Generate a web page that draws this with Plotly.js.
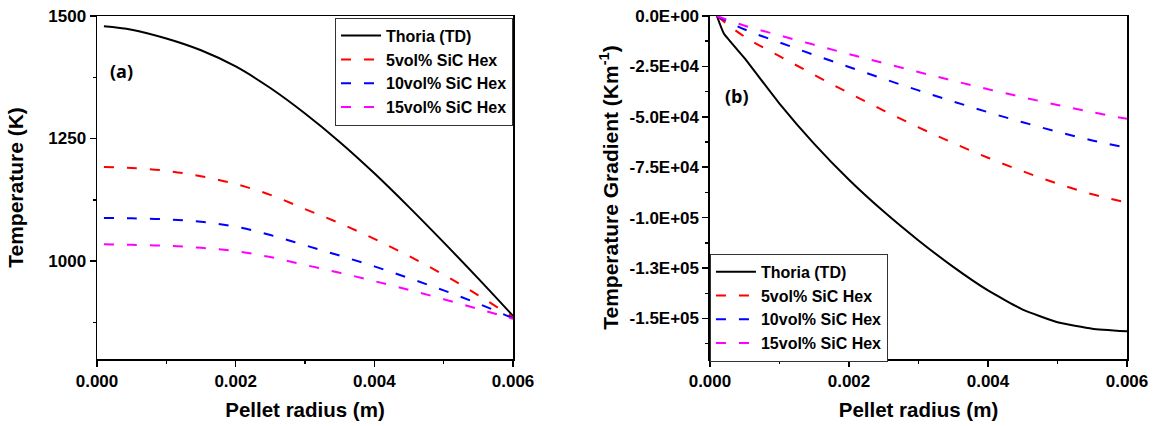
<!DOCTYPE html>
<html>
<head>
<meta charset="utf-8">
<script src="https://cdn.plot.ly/plotly-3.0.1.min.js"></script>
<style>html,body{margin:0;padding:0;background:#fff;}#chart{width:1153px;height:426px;}</style>
</head>
<body>
<div id="chart"></div>
<script>
// ---- Data ----
var seriesNames = ['Thoria (TD)', '5vol% SiC Hex', '10vol% SiC Hex', '15vol% SiC Hex'];

// (a) Temperature vs pellet radius
var radiusA = [0.0001, 0.0005, 0.001, 0.0015, 0.002, 0.0025, 0.003, 0.0035, 0.004, 0.0045, 0.005, 0.0055, 0.006];
var tempThoria = [1479, 1472, 1454, 1430, 1397, 1353, 1301, 1243, 1179, 1110, 1038, 964, 888];
var tempSiC5   = [1192, 1190, 1184, 1173, 1157, 1135, 1106, 1077, 1045, 1010, 972, 930, 885];
var tempSiC10  = [1088, 1087, 1085, 1080, 1070, 1053, 1032, 1011, 989, 965, 940, 913, 883];
var tempSiC15  = [1034, 1033, 1031, 1027, 1020, 1008, 992, 976, 959, 941, 922, 902, 882];

// (b) Temperature gradient vs pellet radius
var radiusBThoria = [0.0001, 0.0002, 0.0005, 0.001, 0.0015, 0.002, 0.0025, 0.003, 0.0035, 0.004, 0.0045, 0.005, 0.0055, 0.006];
var gradThoria = [0, -8700, -21000, -43400, -63400, -81200, -97000, -111300, -124400, -136100, -145600, -151900, -155100, -156400];
var radiusB = [0.0001, 0.0005, 0.001, 0.0015, 0.002, 0.0025, 0.003, 0.0035, 0.004, 0.0045, 0.005, 0.0055, 0.006];
var gradSiC5  = [0, -10300, -19900, -29200, -38200, -46900, -55200, -63000, -70300, -77000, -83100, -88400, -92500];
var gradSiC10 = [0, -6700, -13100, -19300, -25300, -31200, -36900, -42400, -47700, -52700, -57400, -61700, -65400];
var gradSiC15 = [0, -4800, -9600, -14300, -18900, -23400, -27800, -32100, -36300, -40300, -44100, -47700, -51000];

var gradTickVals = [0, -25000, -50000, -75000, -100000, -125000, -150000];
var gradTickText = ['0.0E+00', '-2.5E+04', '-5.0E+04', '-7.5E+04', '-1.0E+05', '-1.3E+05', '-1.5E+05'];

// ---- Styling ----
var colors = ['#000000', '#FF0000', '#0000FF', '#FF00FF'];
var dashes = ['solid', '10px,13px', '10px,13px', '10px,13px'];
var FONT = 'Liberation Sans, Arial, sans-serif';

function tr(x, y, i, xa, ya, leg, smooth) {
  return {
    x: x, y: y, name: seriesNames[i], type: 'scatter', mode: 'lines',
    xaxis: xa, yaxis: ya, legend: leg,
    line: {color: colors[i], width: 2, dash: dashes[i], shape: 'spline', smoothing: smooth == null ? 1 : smooth}
  };
}

var data = [
  tr(radiusA, tempThoria, 0, 'x', 'y', 'legend'),
  tr(radiusA, tempSiC5, 1, 'x', 'y', 'legend'),
  tr(radiusA, tempSiC10, 2, 'x', 'y', 'legend'),
  tr(radiusA, tempSiC15, 3, 'x', 'y', 'legend'),
  tr(radiusBThoria, gradThoria, 0, 'x2', 'y2', 'legend2', 0.4),
  tr(radiusB, gradSiC5, 1, 'x2', 'y2', 'legend2'),
  tr(radiusB, gradSiC10, 2, 'x2', 'y2', 'legend2'),
  tr(radiusB, gradSiC15, 3, 'x2', 'y2', 'legend2')
];

var tickFont = {family: FONT, size: 17, color: '#000', weight: 'bold'};
var xTitleFont = {family: FONT, size: 20.5, color: '#000', weight: 'bold'};
var yTitleFont = {family: FONT, size: 21, color: '#000', weight: 'bold'};
var legendFont = {family: FONT, size: 16, color: '#000', weight: 'bold'};

function xAxis(domain, anchor) {
  return {
    domain: domain, anchor: anchor, range: [0, 0.006],
    tickvals: [0, 0.002, 0.004, 0.006], ticktext: ['0.000', '0.002', '0.004', '0.006'],
    ticks: 'outside', ticklen: 6, tickwidth: 1.5, tickcolor: '#000',
    minor: {tickvals: [0.001, 0.003, 0.005], ticks: 'outside', ticklen: 3, tickwidth: 1.5, tickcolor: '#000'},
    showline: true, linecolor: '#000', linewidth: 1.5, mirror: true,
    showgrid: false, zeroline: false, tickfont: tickFont,
    title: {text: 'Pellet radius (m)', font: xTitleFont, standoff: 12}
  };
}

var layout = {
  width: 1153, height: 426,
  margin: {l: 97, r: 26, t: 16, b: 67},
  paper_bgcolor: '#fff', plot_bgcolor: '#fff',
  showlegend: true,
  xaxis: xAxis([0, 0.4039], 'y'),
  xaxis2: xAxis([0.5951, 1], 'y2'),
  yaxis: {
    domain: [0, 1], anchor: 'x', range: [800, 1500],
    tickvals: [1000, 1250, 1500], ticktext: ['1000', '1250', '1500'],
    ticks: 'outside', ticklen: 6, tickwidth: 1.5, tickcolor: '#000',
    minor: {tickvals: [875, 1125, 1375], ticks: 'outside', ticklen: 3, tickwidth: 1.5, tickcolor: '#000'},
    showline: true, linecolor: '#000', linewidth: 1.5, mirror: true,
    showgrid: false, zeroline: false, tickfont: tickFont,
    title: {text: 'Temperature (K)', font: yTitleFont, standoff: 19}
  },
  yaxis2: {
    domain: [0, 1], anchor: 'x2', range: [-170100, 0],
    tickvals: gradTickVals, ticktext: gradTickText,
    ticks: 'outside', ticklen: 6, tickwidth: 1.5, tickcolor: '#000',
    minor: {tickvals: [-12500, -37500, -62500, -87500, -112500, -137500, -162500], ticks: 'outside', ticklen: 3, tickwidth: 1.5, tickcolor: '#000'},
    showline: true, linecolor: '#000', linewidth: 1.5, mirror: true,
    showgrid: false, zeroline: false, tickfont: tickFont,
    title: {text: 'Temperature Gradient (Km<sup>-1</sup>)', font: yTitleFont, standoff: 5}
  },
  legend: {
    x: 0.4039, xanchor: 'right', y: 0.995, yanchor: 'top',
    bgcolor: '#fff', bordercolor: '#333', borderwidth: 1,
    font: legendFont, tracegroupgap: 0, itemwidth: 40
  },
  legend2: {
    x: 0.5951, xanchor: 'left', y: -0.008, yanchor: 'bottom',
    bgcolor: '#fff', bordercolor: '#333', borderwidth: 1,
    font: legendFont, tracegroupgap: 0, itemwidth: 40
  },
  annotations: [
    {text: '(a)', xref: 'x', yref: 'y', x: 0.00036, y: 1387, showarrow: false,
     font: {family: 'Open Sans, sans-serif', size: 18, color: '#000', weight: 'bold'}},
    {text: '(b)', xref: 'x2', yref: 'y2', x: 0.00039, y: -39600, showarrow: false,
     font: {family: 'Open Sans, sans-serif', size: 18, color: '#000', weight: 'bold'}}
  ]
};

Plotly.newPlot('chart', data, layout, {displayModeBar: false, staticPlot: true});
</script>
</body>
</html>
